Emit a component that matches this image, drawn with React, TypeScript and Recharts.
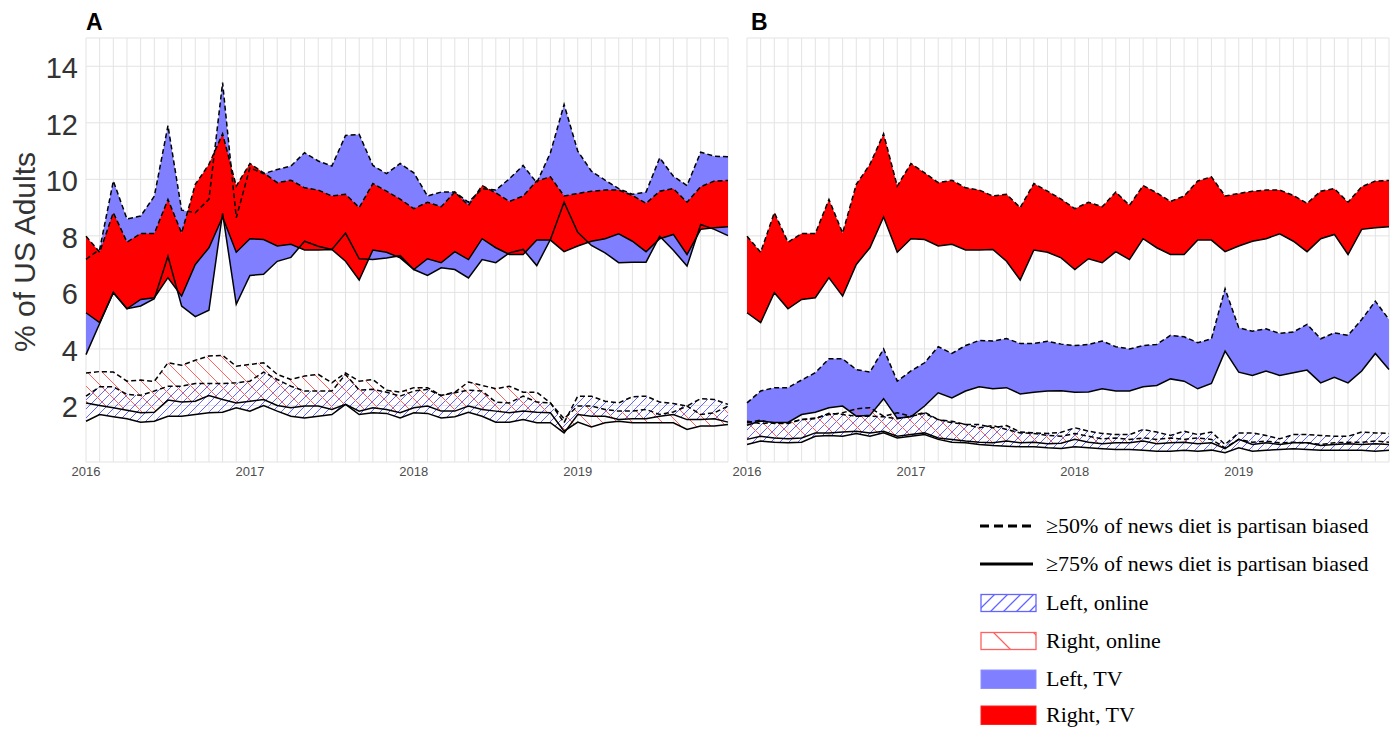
import React from 'react';
import { ComposedChart, Area, Line, XAxis, YAxis, CartesianGrid } from 'recharts';

// ---------- categories / ticks ----------
const years = [2016, 2017, 2018, 2019];
const monthIndex = Array.from({ length: years.length * 12 }, (_, i) => i);
const yGridValues = [0, 2, 4, 6, 8, 10, 12, 14];
const yTickLabels = [2, 4, 6, 8, 10, 12, 14];

// ---------- Right, TV (same in both panels) ----------
const rightTvHi = [7.99, 7.42, 8.82, 7.78, 8.08, 8.08, 9.29, 8.1, 9.82, 10.53, 11.61, 9.76, 10.56, 10.23, 9.88, 9.97, 9.7, 9.62, 9.41, 9.47, 9.0, 9.85, 9.58, 9.3, 8.96, 9.19, 9.03, 9.55, 9.08, 9.78, 9.52, 9.22, 9.41, 9.94, 10.09, 9.41, 9.5, 9.58, 9.62, 9.62, 9.43, 9.15, 9.58, 9.67, 9.19, 9.74, 9.94, 9.96];
const rightTvLo = [5.28, 4.93, 5.99, 5.42, 5.75, 5.81, 6.52, 5.87, 6.99, 7.58, 8.67, 7.42, 7.9, 7.87, 7.64, 7.7, 7.5, 7.5, 7.52, 7.1, 6.44, 7.5, 7.42, 7.22, 6.81, 7.19, 7.05, 7.44, 7.16, 7.9, 7.58, 7.34, 7.34, 7.85, 7.85, 7.44, 7.64, 7.81, 7.9, 8.07, 7.81, 7.44, 7.9, 8.05, 7.34, 8.23, 8.29, 8.32];

// ---------- Panel A ----------
const aLeftTvHi = [7.17, 7.52, 9.94, 8.6, 8.7, 9.4, 11.9, 8.91, 8.82, 9.29, 13.42, 8.64, 10.41, 10.2, 10.35, 10.47, 10.94, 10.65, 10.47, 11.55, 11.59, 10.49, 10.2, 10.56, 10.23, 9.41, 9.55, 9.55, 9.19, 9.67, 9.62, 10.02, 10.49, 9.88, 10.94, 12.65, 11.0, 10.29, 9.97, 9.67, 9.47, 9.55, 10.76, 10.11, 9.78, 10.96, 10.82, 10.8];
const aLeftTvLo = [3.8, 4.9, 6.0, 5.42, 5.52, 5.78, 7.28, 5.52, 5.14, 5.37, 8.8, 5.58, 6.6, 6.64, 7.1, 7.24, 7.81, 7.63, 7.52, 8.1, 7.19, 7.16, 7.22, 7.3, 6.81, 6.6, 6.87, 6.81, 6.51, 7.16, 7.05, 7.4, 7.52, 6.95, 7.87, 9.19, 8.13, 7.66, 7.4, 7.05, 7.07, 7.07, 7.99, 7.49, 6.93, 8.4, 8.23, 8.01];
const aLeftOnHi = [2.33, 2.66, 2.66, 2.39, 2.36, 2.51, 2.68, 2.68, 2.78, 2.78, 2.78, 2.8, 2.86, 3.18, 2.92, 2.68, 2.51, 2.51, 2.51, 3.1, 2.54, 2.57, 2.47, 2.33, 2.51, 2.57, 2.35, 2.45, 2.54, 2.51, 2.12, 2.09, 2.33, 2.12, 2.09, 1.39, 2.33, 2.33, 2.15, 2.09, 2.31, 2.33, 2.12, 2.07, 1.98, 2.24, 2.21, 2.04];
const aLeftOnLo = [1.44, 1.68, 1.6, 1.53, 1.41, 1.44, 1.62, 1.62, 1.68, 1.74, 1.76, 1.92, 1.8, 2.0, 1.8, 1.62, 1.56, 1.62, 1.68, 2.04, 1.68, 1.74, 1.72, 1.56, 1.74, 1.72, 1.56, 1.6, 1.76, 1.62, 1.41, 1.41, 1.5, 1.39, 1.39, 1.03, 1.68, 1.62, 1.62, 1.5, 1.53, 1.53, 1.62, 1.68, 1.5, 1.5, 1.53, 1.41];
const aRightOnHi = [3.15, 3.2, 3.18, 2.86, 2.9, 2.85, 3.51, 3.42, 3.6, 3.75, 3.77, 3.39, 3.45, 3.51, 3.1, 2.92, 3.04, 3.1, 2.8, 3.15, 2.86, 2.92, 2.54, 2.47, 2.63, 2.63, 2.35, 2.47, 2.83, 2.71, 2.59, 2.68, 2.47, 2.47, 2.09, 1.53, 1.98, 1.98, 1.86, 1.8, 1.8, 1.86, 1.68, 1.77, 1.98, 1.68, 1.74, 1.98];
const aRightOnLo = [2.09, 2.0, 1.92, 1.83, 1.74, 1.76, 2.19, 2.12, 2.15, 2.35, 2.21, 2.09, 2.15, 2.21, 2.0, 1.92, 1.98, 1.98, 1.86, 2.04, 1.8, 1.92, 1.86, 1.74, 1.92, 1.98, 1.8, 1.8, 1.98, 1.86, 1.8, 1.74, 1.8, 1.76, 1.74, 1.09, 1.41, 1.24, 1.39, 1.44, 1.39, 1.39, 1.39, 1.39, 1.15, 1.27, 1.27, 1.33];

// ---------- Panel B ----------
const bLeftTvHi = [2.09, 2.51, 2.63, 2.63, 2.9, 3.16, 3.65, 3.65, 3.27, 3.18, 4.0, 2.86, 3.22, 3.51, 4.08, 3.84, 4.12, 4.3, 4.28, 4.37, 4.19, 4.19, 4.27, 4.17, 4.12, 4.16, 4.28, 4.08, 4.0, 4.12, 4.16, 4.48, 4.43, 4.22, 4.36, 6.13, 4.75, 4.63, 4.71, 4.55, 4.6, 4.87, 4.36, 4.57, 4.48, 5.04, 5.69, 5.04];
const bLeftTvLo = [1.3, 1.45, 1.4, 1.4, 1.68, 1.76, 1.92, 1.98, 1.62, 1.65, 2.24, 1.55, 1.6, 1.98, 2.45, 2.27, 2.51, 2.66, 2.59, 2.63, 2.41, 2.47, 2.51, 2.52, 2.47, 2.48, 2.59, 2.51, 2.51, 2.66, 2.71, 2.94, 2.86, 2.59, 2.78, 3.92, 3.18, 3.06, 3.22, 3.06, 3.16, 3.25, 2.8, 3.0, 2.8, 3.22, 3.84, 3.27];
const bLeftOnHi = [1.39, 1.48, 1.36, 1.36, 1.5, 1.53, 1.72, 1.68, 1.62, 1.62, 1.6, 1.53, 1.62, 1.72, 1.5, 1.44, 1.33, 1.33, 1.21, 1.29, 1.06, 1.03, 1.01, 1.05, 1.21, 1.09, 1.01, 0.97, 0.97, 1.15, 1.06, 0.94, 1.09, 0.97, 1.06, 0.62, 1.03, 1.03, 0.94, 0.82, 0.97, 0.97, 0.94, 0.91, 0.91, 1.06, 1.03, 1.01];
const bLeftOnLo = [0.62, 0.74, 0.7, 0.68, 0.7, 0.91, 0.94, 0.91, 1.01, 0.91, 1.03, 0.85, 0.91, 0.97, 0.8, 0.7, 0.68, 0.62, 0.58, 0.56, 0.54, 0.54, 0.5, 0.48, 0.54, 0.5, 0.47, 0.44, 0.44, 0.42, 0.38, 0.38, 0.42, 0.38, 0.42, 0.33, 0.5, 0.38, 0.42, 0.44, 0.47, 0.44, 0.42, 0.42, 0.42, 0.42, 0.38, 0.42];
const bRightOnHi = [1.44, 1.36, 1.39, 1.39, 1.5, 1.56, 1.68, 1.74, 1.88, 1.92, 1.62, 1.74, 1.62, 1.76, 1.5, 1.39, 1.33, 1.21, 1.29, 1.15, 1.03, 1.01, 0.94, 0.91, 1.01, 0.91, 0.82, 0.85, 0.8, 0.85, 0.8, 0.85, 0.8, 0.85, 0.8, 0.5, 0.8, 0.7, 0.74, 0.68, 0.7, 0.68, 0.62, 0.68, 0.7, 0.7, 0.74, 0.7];
const bRightOnLo = [0.8, 0.91, 0.85, 0.82, 0.85, 1.03, 1.03, 1.06, 1.09, 1.03, 1.09, 0.91, 0.97, 1.03, 0.85, 0.8, 0.74, 0.7, 0.68, 0.74, 0.68, 0.7, 0.65, 0.66, 0.8, 0.7, 0.65, 0.68, 0.68, 0.74, 0.65, 0.68, 0.7, 0.65, 0.68, 0.47, 0.8, 0.62, 0.68, 0.62, 0.68, 0.68, 0.58, 0.62, 0.65, 0.62, 0.65, 0.62];

const FF = '"Liberation Sans", Arial, Helvetica, sans-serif';
const SERIF = '"Liberation Serif", "Times New Roman", serif';

type Series = {
  leftTvHi: number[]; leftTvLo: number[];
  rightTvHi: number[]; rightTvLo: number[];
  leftOnHi: number[]; leftOnLo: number[];
  rightOnHi: number[]; rightOnLo: number[];
};

function buildRows(s: Series) {
  return monthIndex.map((i) => ({
    m: i,
    leftTv: [s.leftTvLo[i], s.leftTvHi[i]],
    rightTv: [s.rightTvLo[i], s.rightTvHi[i]],
    leftOn: [s.leftOnLo[i], s.leftOnHi[i]],
    rightOn: [s.rightOnLo[i], s.rightOnHi[i]],
    leftTvHi: s.leftTvHi[i], leftTvLo: s.leftTvLo[i],
    rightTvHi: s.rightTvHi[i], rightTvLo: s.rightTvLo[i],
    leftOnHi: s.leftOnHi[i], leftOnLo: s.leftOnLo[i],
    rightOnHi: s.rightOnHi[i], rightOnLo: s.rightOnLo[i],
  }));
}

const rowsA = buildRows({
  leftTvHi: aLeftTvHi, leftTvLo: aLeftTvLo, rightTvHi, rightTvLo,
  leftOnHi: aLeftOnHi, leftOnLo: aLeftOnLo, rightOnHi: aRightOnHi, rightOnLo: aRightOnLo,
});
const rowsB = buildRows({
  leftTvHi: bLeftTvHi, leftTvLo: bLeftTvLo, rightTvHi, rightTvLo,
  leftOnHi: bLeftOnHi, leftOnLo: bLeftOnLo, rightOnHi: bRightOnHi, rightOnLo: bRightOnLo,
});

const makeYTick = (show: boolean) => (props: any) => {
  const { x, y, payload } = props;
  const v = payload && payload.value;
  if (!show || !yTickLabels.includes(v)) return <g />;
  return (
    <text x={x} y={y} dy={12} textAnchor="end" fontSize={29} fill="#333" fontFamily={FF}>
      {v}
    </text>
  );
};

const xFmt = (v: number) => (v % 12 === 0 ? String(years[v / 12]) : '');

function Panel({ rows, id, showY, width, margin, yWidth }: any) {
  const dashed = '5 3';
  const lw = 1.5;
  return (
    <ComposedChart width={width} height={500} data={rows} margin={margin}>
      <defs>
        <pattern id={`hb${id}`} patternUnits="userSpaceOnUse" width="9" height="9">
          <path d="M-1,1 L1,-1 M0,9 L9,0 M8,10 L10,8" stroke="#6464ff" strokeWidth="1" />
        </pattern>
        <pattern id={`hr${id}`} patternUnits="userSpaceOnUse" width="15" height="15">
          <path d="M-1,14 L1,16 M0,0 L15,15 M14,-1 L16,1" stroke="#ff6060" strokeWidth="1" />
        </pattern>
      </defs>
      <CartesianGrid stroke="#e3e3e3" strokeWidth={1} />
      <XAxis
        type="number" dataKey="m" domain={[0, 47]} ticks={monthIndex} interval={0}
        tickLine={false} axisLine={false} tickSize={0} tickMargin={5} height={38}
        tickFormatter={xFmt} tick={{ fontSize: 13, fill: '#4d4d4d', fontFamily: FF }}
      />
      <YAxis
        type="number" domain={[0, 15]} ticks={yGridValues} interval={0} width={yWidth}
        tickLine={false} axisLine={false} tickSize={0} tickMargin={8}
        tick={makeYTick(showY)}
      />
      <Area type="linear" dataKey="leftTv" stroke="none" fill="#7f7fff" fillOpacity={1} isAnimationActive={false} dot={false} activeDot={false} />
      <Area type="linear" dataKey="rightTv" stroke="none" fill="#ff0000" fillOpacity={1} isAnimationActive={false} dot={false} activeDot={false} />
      <Area type="linear" dataKey="leftOn" stroke="none" fill={`url(#hb${id})`} fillOpacity={1} isAnimationActive={false} dot={false} activeDot={false} />
      <Area type="linear" dataKey="rightOn" stroke="none" fill={`url(#hr${id})`} fillOpacity={1} isAnimationActive={false} dot={false} activeDot={false} />
      <Line type="linear" dataKey="leftTvHi" stroke="#000" strokeWidth={lw} strokeDasharray={dashed} dot={false} activeDot={false} isAnimationActive={false} />
      <Line type="linear" dataKey="rightTvHi" stroke="#000" strokeWidth={lw} strokeDasharray={dashed} dot={false} activeDot={false} isAnimationActive={false} />
      <Line type="linear" dataKey="leftTvLo" stroke="#000" strokeWidth={lw} dot={false} activeDot={false} isAnimationActive={false} />
      <Line type="linear" dataKey="rightTvLo" stroke="#000" strokeWidth={lw} dot={false} activeDot={false} isAnimationActive={false} />
      <Line type="linear" dataKey="leftOnHi" stroke="#000" strokeWidth={lw} strokeDasharray={dashed} dot={false} activeDot={false} isAnimationActive={false} />
      <Line type="linear" dataKey="rightOnHi" stroke="#000" strokeWidth={lw} strokeDasharray={dashed} dot={false} activeDot={false} isAnimationActive={false} />
      <Line type="linear" dataKey="leftOnLo" stroke="#000" strokeWidth={lw} dot={false} activeDot={false} isAnimationActive={false} />
      <Line type="linear" dataKey="rightOnLo" stroke="#000" strokeWidth={lw} dot={false} activeDot={false} isAnimationActive={false} />
    </ComposedChart>
  );
}

const legendItems = [
  { kind: 'dash', label: '≥50% of news diet is partisan biased' },
  { kind: 'solid', label: '≥75% of news diet is partisan biased' },
  { kind: 'leftOn', label: 'Left, online' },
  { kind: 'rightOn', label: 'Right, online' },
  { kind: 'leftTv', label: 'Left, TV' },
  { kind: 'rightTv', label: 'Right, TV' },
];

function Overlay() {
  const rowY = [526, 564, 603, 641, 679, 715];
  return (
    <svg width={1391} height={729} style={{ position: 'absolute', left: 0, top: 0 }}>
      <defs>
        <pattern id="lgb" patternUnits="userSpaceOnUse" width="13" height="13" x="981" y="595">
          <path d="M-1,1 L1,-1 M0,13 L13,0 M12,14 L14,12" stroke="#6464ff" strokeWidth="1.3" />
        </pattern>
        <pattern id="lgr" patternUnits="userSpaceOnUse" width="40" height="40" x="975" y="614">
          <path d="M0,0 L40,40 M-2,38 L2,42 M38,-2 L42,2" stroke="#ff6060" strokeWidth="1.3" />
        </pattern>
      </defs>
      <text x={86} y={30} fontSize={23} fontWeight="bold" fontFamily={FF} fill="#000">A</text>
      <text x={751} y={30} fontSize={23} fontWeight="bold" fontFamily={FF} fill="#000">B</text>
      <text
        x={24} y={252} fontSize={30} fontFamily={FF} fill="#333" textAnchor="middle"
        dominantBaseline="central" transform="rotate(-90 24 252)"
      >
        % of US Adults
      </text>
      {legendItems.map((it, i) => {
        const cy = rowY[i];
        let sym: any = null;
        if (it.kind === 'dash') sym = <line x1={980} x2={1031} y1={cy} y2={cy} stroke="#000" strokeWidth={3} strokeDasharray="9 5" />;
        if (it.kind === 'solid') sym = <line x1={980} x2={1033} y1={cy} y2={cy} stroke="#000" strokeWidth={3} />;
        if (it.kind === 'leftOn') sym = <rect x={981} y={cy - 8.5} width={55} height={17} fill="url(#lgb)" stroke="#6464ff" strokeWidth={1.3} />;
        if (it.kind === 'rightOn') sym = <rect x={981} y={cy - 8.5} width={55} height={17} fill="url(#lgr)" stroke="#ff6060" strokeWidth={1.3} />;
        if (it.kind === 'leftTv') sym = <rect x={981} y={cy - 9} width={55} height={18.5} fill="#7f7fff" stroke="#8f8fff" strokeWidth={1} />;
        if (it.kind === 'rightTv') sym = <rect x={981} y={cy - 9} width={55} height={18.5} fill="#ff0000" stroke="#ff2020" strokeWidth={1} />;
        return (
          <g key={i}>
            {sym}
            <text x={1046} y={cy + 7} fontSize={22} fontFamily={SERIF} fill="#000">{it.label}</text>
          </g>
        );
      })}
    </svg>
  );
}

export default function App() {
  return (
    <div style={{ position: 'absolute', left: 0, top: 0, width: 1391, height: 729, background: '#fff', overflow: 'hidden' }}>
      <Overlay />
      <div style={{ position: 'absolute', left: 0, top: 0 }}>
        <Panel rows={rowsA} id="A" showY={true} width={740} yWidth={86} margin={{ top: 38, right: 12, bottom: 0, left: 0 }} />
      </div>
      <div style={{ position: 'absolute', left: 700, top: 0 }}>
        <Panel rows={rowsB} id="B" showY={false} width={691} yWidth={0} margin={{ top: 38, right: 2, bottom: 0, left: 47 }} />
      </div>
    </div>
  );
}
